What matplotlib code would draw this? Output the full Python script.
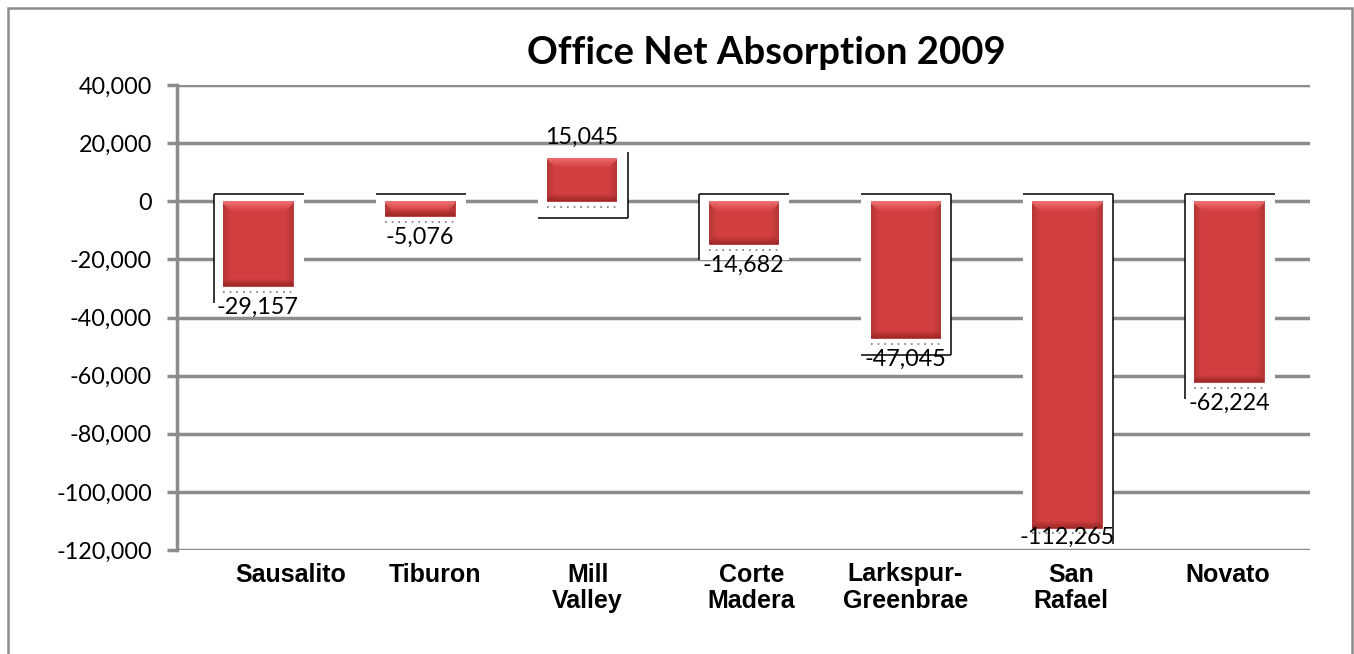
import numpy as np
import matplotlib
matplotlib.use("Agg")
import matplotlib.pyplot as plt
from matplotlib.patches import Rectangle
from matplotlib.ticker import FixedLocator, FuncFormatter
import matplotlib.transforms as mtransforms

# ---------------- data ----------------
categories = ["Sausalito", "Tiburon", "Mill\nValley", "Corte\nMadera",
              "Larkspur-\nGreenbrae", "San\nRafael", "Novato"]
values = [-29157, -5076, 15045, -14682, -47045, -112265, -62224]
title = "Office Net Absorption 2009"
y_ticks = [40000, 20000, 0, -20000, -40000, -60000, -80000, -100000, -120000]

# ---------------- style ----------------
box_edges = ["lt", "t", "rb", "lt", "trb", "tr", "lt"]   # visible black edges of label frames
label_dx_px = [33, 15, 6, 8, 0, 4, -1]                    # horizontal nudges of category labels
GRID = "#8C8C8C"
W, H, DPI = 1354, 654, 100

fig = plt.figure(figsize=(W / DPI, H / DPI), dpi=DPI)
fig.patch.set_facecolor("white")

# outer chart-area border
fig.add_artist(Rectangle((7.5 / W, -0.05), (1352 - 7.5) / W, 1.05 - 7.5 / H,
                         transform=fig.transFigure, fill=False,
                         edgecolor=GRID, linewidth=1.8))

ax = fig.add_axes([177 / W, 1 - 550 / H, (1310 - 177) / W, (550 - 85) / H])
ax.set_xlim(-0.5, len(categories) - 0.5)
ax.set_ylim(y_ticks[-1], y_ticks[0])

for s in ["top", "right", "bottom"]:
    ax.spines[s].set_visible(False)
ax.spines["left"].set_color(GRID)
ax.spines["left"].set_linewidth(2.5)

ax.yaxis.set_major_locator(FixedLocator(y_ticks))
ax.yaxis.set_major_formatter(FuncFormatter(lambda v, p: f"{v:,.0f}"))
ax.tick_params(axis="y", length=7, width=2.5, color=GRID, pad=11,
               labelsize=16.8, labelcolor="black")
for t in ax.get_yticklabels():
    t.set_fontfamily("Lato")
ax.yaxis.grid(True, color=GRID, linewidth=2.5, zorder=0)
ax.set_axisbelow(True)

ax.set_xticks(range(len(categories)))
ax.set_xticklabels(categories, fontsize=18, fontweight="bold",
                   fontfamily="Liberation Sans", linespacing=1.15, va="top")
ax.tick_params(axis="x", length=0, pad=9)
for t, dx in zip(ax.get_xticklabels(), label_dx_px):
    t.set_transform(t.get_transform() + mtransforms.ScaledTranslation(dx / DPI, 0, fig.dpi_scale_trans))

bar_w = 0.43
bars = ax.bar(range(len(values)), values, width=bar_w, color="#CF3E3E",
              edgecolor="#B83434", linewidth=0.6, zorder=4)

# label frames (white boxes with partial black edges)
for i, (v, e) in enumerate(zip(values, box_edges)):
    x0, x1 = i - 0.272, i + 0.284
    y0, y1 = min(v, 0) - 5700, max(v, 0) + (2400 if v < 0 else 1800)
    ax.add_patch(Rectangle((x0, y0), x1 - x0, y1 - y0, facecolor="white",
                           edgecolor="none", zorder=2))
    kw = dict(color="black", linewidth=1.1, zorder=3, solid_capstyle="butt")
    if "l" in e:
        ax.plot([x0, x0], [y0, y1], **kw)
    if "r" in e:
        ax.plot([x1, x1], [y0, y1], **kw)
    if "t" in e:
        ax.plot([x0, x1], [y1, y1], **kw)
    if "b" in e:
        ax.plot([x0, x1], [y0, y0], **kw)

# bevel-like gradient fill on each bar
fig.canvas.draw()
for b in bars:
    bx, by, bw, bh = b.get_x(), b.get_y(), b.get_width(), b.get_height()
    ylo, yhi = min(by, by + bh), max(by, by + bh)
    p0 = ax.transData.transform((bx, ylo))
    p1 = ax.transData.transform((bx + bw, yhi))
    wpx = max(int(round(p1[0] - p0[0])), 2)
    hpx = max(int(round(p1[1] - p0[1])), 2)
    yy, xx = np.mgrid[0:hpx, 0:wpx]
    dt, db = yy, hpx - 1 - yy
    dl, dr = xx, wpx - 1 - xx
    base = np.array([0.83, 0.25, 0.25])
    img = np.ones((hpx, wpx, 3)) * base
    side = np.minimum(dl, dr)
    img *= (0.86 + 0.14 * np.clip(side / 8.0, 0, 1))[..., None]
    top = np.clip(1 - dt / 10.0, 0, 1) * (dt <= side + 2)
    img = img + top[..., None] * (np.array([0.96, 0.47, 0.47]) - img) * 0.85
    bot = np.clip(1 - db / 7.0, 0, 1) * (db <= side + 2)
    img = img + bot[..., None] * (np.array([0.58, 0.14, 0.14]) - img) * 0.8
    img = np.clip(img, 0, 1)
    im = ax.imshow(img, extent=[bx, bx + bw, ylo, yhi], aspect="auto",
                   origin="upper", interpolation="bilinear", zorder=4.5)
    im.set_clip_path(b)
ax.set_xlim(-0.5, len(categories) - 0.5)
ax.set_ylim(y_ticks[-1], y_ticks[0])

# dotted shadows and value labels
for i, v in enumerate(values):
    yd = min(v, 0) - 2000
    ax.plot([i - bar_w / 2, i + bar_w / 2], [yd, yd], linestyle=(0, (1, 3)),
            color="#777777", linewidth=1.2, zorder=3.5)
    if v < 0:
        ly = max(v - 7200, y_ticks[-1] + 4300)
    else:
        ly = v + 6900
    ax.text(i, ly, f"{v:,.0f}", ha="center", va="center", fontsize=16.8,
            fontfamily="Lato", color="black", zorder=6)

fig.text(766 / W, 1 - 53 / H, title, ha="center", va="center",
         fontsize=27.5, fontweight="bold", fontfamily="Lato")

fig.savefig("out.png", dpi=DPI)
